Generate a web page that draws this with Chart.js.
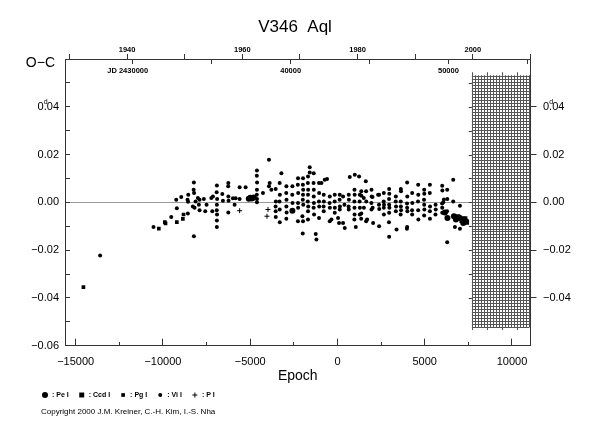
<!DOCTYPE html>
<html>
<head>
<meta charset="utf-8">
<script src="https://cdn.jsdelivr.net/npm/chart.js@4.4.1/dist/chart.umd.min.js"></script>
<style>
  html, body { margin: 0; padding: 0; background: #fff; }
  #wrap { width: 590px; height: 425px; }
</style>
</head>
<body>
<div id="wrap"><canvas id="ocChart"></canvas></div>
<script>
const starName = 'V346  Aql';
const copyright = 'Copyright 2000 J.M. Kreiner, C.-H. Kim, I.-S. Nha';

// ephemeris for the top axes (JD - 2400000 at epoch 0, period in days)
const t0 = 42965;
const period = 1.1064;

const epochRange = [-15610, 11060];
const ocRange = [-0.06, 0.06];

const epochTicks = [-15000, -10000, -5000, 0, 5000, 10000];
const epochMinorTicks = [-12500, -7500, -2500, 2500, 7500];
const ocTicks = [-0.06, -0.05, -0.04, -0.03, -0.02, -0.01, 0, 0.01, 0.02, 0.03, 0.04, 0.05, 0.06];
const ocLabels = [-0.06, -0.04, -0.02, 0, 0.02, 0.04];
const ocRightLabels = [-0.04, -0.02, 0, 0.02, 0.04];
const yearTicks = [1930, 1940, 1950, 1960, 1970, 1980, 1990, 2000, 2010];
const yearLabels = [1940, 1960, 1980, 2000];
const jdTicks = [30000, 35000, 40000, 45000, 50000, 55000];
const jdLabels = [30000, 40000, 50000];

// shaded block at the right end of the plot (epoch, O-C)
const hatchEpoch = [7700, 11060];
const hatchOC = [-0.0522, 0.0532];

// photoelectric minima
const peEpoch = [-5080, -4990, -4900, -4800, -2582, 6157, 6300, 6672, 6787, 7017, 7246, 7360, 7206];
const peOC = [0.0015, 0.0019, 0.0016, 0.0020, -0.0035, -0.0042, -0.0065, -0.0058, -0.0072, -0.0065, -0.0072, -0.0079, -0.0086];

// CCD minima
const ccdEpoch = [7130, 7300, 7400, 6900];
const ccdOC = [-0.0076, -0.0069, -0.0083, -0.0060];

// photographic minima
const pgEpoch = [-14555, -10235, -9891, -9850, -9202, -8818, -8858];
const pgOC = [-0.0355, -0.0110, -0.0083, -0.0088, -0.0083, -0.0051, -0.0069];

// visual minima
const viEpoch = [
  -13597, -10539, -9524, -9237, -9202, -8950, -8571, -8548, -8590, -8560,
  -8227, -8240, -8215, -8227, -8285, -8187, -8130, -7998, -7900, -7940,
  -7900, -7654, -7573, -7498, -7229, -7172, -7137, -6908, -6920, -6895,
  -6908, -6915, -6900, -6908, -6910, -6598, -6563, -6254, -6260, -6250,
  -6240, -6254, -5990, -5892, -5834, -5605, -5605, -5261, -4613, -4620,
  -4605, -4613, -4620, -4610, -4613, -3924, -4268, -3924, -3884, -3787,
  -3540, -3530, -3545, -3540, -3535, -3310, -3300, -3320, -3310, -3305,
  -3213, -2926, -2935, -2920, -2926, -2915, -2930, -2582, -2590, -2575,
  -2260, -2270, -2250, -2260, -2255, -2265, -2008, -1973, -1980, -1965,
  -1973, -1985, -1960, -1973, -1990, -1687, -1695, -1680, -1687, -1700,
  -1675, -1687, -1690, -1589, -1589, -1360, -1370, -1355, -1360, -1350,
  -1365, -1340, -1245, -1205, -1056, -1050, -1060, -1045, -1056, -918,
  -729, -597, -786, -780, -795, -786, -442, -450, -435, -442,
  -344, -155, -160, -150, -155, 34, 92, 132, 125, 140,
  132, 321, 400, 321, 419, 706, 993, 1239, 1624, 648,
  655, 640, 648, 975, 985, 970, 975, 980, 968, 1050,
  1279, 1270, 1285, 1279, 1509, 1515, 1698, 1951, 1960, 1945,
  1951, 2043, 2329, 1366, 1375, 1366, 1360, 1641, 1650, 1641,
  2008, 2015, 2387, 2380, 2395, 2387, 2656, 2650, 2665, 2656,
  2660, 2961, 2970, 2955, 2961, 2975, 2961, 2950, 2961, 3345,
  3340, 3355, 3345, 3385, 3632, 3640, 3625, 3632, 3645, 3620,
  3993, 4000, 3985, 3993, 4005, 3993, 3980, 4280, 4290, 4275,
  4280, 4624, 4630, 4615, 4624, 4635, 4969, 4975, 4960, 4969,
  4980, 4965, 5296, 5290, 5305, 5296, 5300, 5622, 5630, 5615,
  6001, 6010, 5995, 6001, 6005, 6288, 6295, 6280, 6288, 6632,
  6632, 6730, 7017, 7017, 6060, 6100
];
const viOC = [
  -0.0222, -0.0103, -0.0061, 0.0011, -0.0025, 0.0022, -0.0047, 0.0032, 0.0011, 0.0003,
  0.0083, 0.0053, 0.0039, -0.0142, -0.0017, -0.0023, 0.0004, 0.0018, 0.0011, -0.0010,
  -0.0033, 0.0014, -0.0037, -0.0010, 0.0018, -0.0037, 0.0025, 0.0071, 0.0042, 0.0014,
  -0.0010, -0.0033, -0.0051, -0.0076, -0.0103, 0.0035, 0.0007, 0.0081, 0.0067, 0.0025,
  0.0007, -0.0042, 0.0017, -0.0010, 0.0017, 0.0063, 0.0014, 0.0063, 0.0133, 0.0111,
  0.0083, 0.0053, 0.0032, 0.0014, 0.0000, 0.0178, 0.0039, 0.0067, 0.0081, 0.0053,
  0.0056, 0.0004, -0.0017, -0.0037, -0.0061, 0.0081, 0.0032, 0.0004, -0.0030, -0.0083,
  0.0122, 0.0067, 0.0039, 0.0011, -0.0017, -0.0042, -0.0069, 0.0067, 0.0032, -0.0003,
  0.0101, 0.0074, 0.0039, -0.0003, -0.0023, -0.0079, -0.0058, 0.0101, 0.0074, 0.0053,
  0.0032, 0.0011, -0.0010, -0.0079, -0.0130, 0.0108, 0.0081, 0.0053, 0.0032, 0.0004,
  -0.0017, -0.0037, -0.0072, 0.0147, 0.0125, 0.0122, 0.0081, 0.0053, 0.0025, -0.0003,
  -0.0023, -0.0051, -0.0132, -0.0155, 0.0081, 0.0039, 0.0004, -0.0017, -0.0065, 0.0081,
  0.0095, 0.0098, 0.0032, 0.0004, -0.0017, -0.0037, 0.0025, -0.0003, -0.0023, -0.0079,
  -0.0072, 0.0032, 0.0004, -0.0023, -0.0044, -0.0065, -0.0086, 0.0032, 0.0011, -0.0017,
  -0.0030, 0.0025, -0.0010, -0.0086, -0.0107, 0.0106, 0.0115, 0.0108, 0.0088, 0.0032,
  0.0011, -0.0017, -0.0030, 0.0053, 0.0032, 0.0004, -0.0023, -0.0051, -0.0072, -0.0103,
  0.0032, 0.0004, -0.0023, -0.0051, 0.0018, -0.0023, -0.0072, 0.0053, 0.0025, -0.0003,
  -0.0030, -0.0086, 0.0032, 0.0046, 0.0028, -0.0047, -0.0069, 0.0046, 0.0004, -0.0079,
  0.0022, -0.0023, 0.0032, -0.0010, -0.0028, -0.0100, 0.0039, 0.0004, -0.0010, -0.0023,
  -0.0051, 0.0056, 0.0036, 0.0014, -0.0010, -0.0023, -0.0044, -0.0083, -0.0144, 0.0025,
  0.0004, -0.0017, -0.0037, -0.0114, 0.0056, 0.0046, 0.0004, -0.0017, -0.0033, -0.0051,
  0.0083, 0.0025, -0.0005, -0.0023, -0.0037, -0.0103, -0.0111, 0.0039, -0.0003, -0.0033,
  -0.0051, 0.0074, 0.0032, 0.0004, -0.0033, -0.0072, 0.0053, 0.0036, 0.0011, -0.0010,
  -0.0030, -0.0055, 0.0074, 0.0039, -0.0017, -0.0037, -0.0069, -0.0010, -0.0030, -0.0051,
  0.0070, 0.0050, -0.0005, -0.0023, -0.0044, 0.0053, 0.0014, -0.0037, -0.0167, 0.0095,
  0.0004, -0.0103, -0.0111, -0.0014, 0.0000, 0.0012
];

// minima with unknown method
const pEpoch = [-5605, -3981, -4039];
const pOC = [-0.0035, -0.0030, -0.0058];

const family = "'Liberation Sans', Arial, Helvetica, sans-serif";
const axisColor = '#333';
const zeroColor = '#999';
const hatchColor = '#555';

Chart.defaults.font.family = family;
Chart.defaults.color = '#000';

function pairs(xs, ys) {
  return xs.map((x, i) => ({ x: x, y: ys[i] }));
}

function sameValue(a, b) {
  return Math.abs(a - b) < 1e-9;
}

function fmtNumber(v, digits) {
  if (sameValue(v, 0)) v = 0;
  const s = v.toFixed(digits);
  return s.replace('-', '\u2212');
}

function jdToYear(jd) {
  return 2000 + (jd - 51544.5) / 365.25;
}

const jdMin = t0 + period * epochRange[0];
const jdMax = t0 + period * epochRange[1];

function useTicks(list) {
  return function (scale) {
    scale.ticks = list.map(v => ({ value: v }));
  };
}

// hatched block, day marks on 0.04, O-C label, legend and copyright
const decorations = {
  id: 'decorations',
  afterDatasetsDraw(chart) {
    const ctx = chart.ctx;
    const xs = chart.scales.x;
    const ys = chart.scales.y;
    const left = xs.getPixelForValue(hatchEpoch[0]);
    const right = xs.getPixelForValue(hatchEpoch[1]);
    const top = ys.getPixelForValue(hatchOC[1]);
    const bottom = ys.getPixelForValue(hatchOC[0]);
    const stepX = 172;
    const stepY = 0.00125;

    ctx.save();
    ctx.fillStyle = '#fff';
    ctx.fillRect(left, top, right - left - 1, bottom - top);
    ctx.strokeStyle = hatchColor;
    ctx.lineWidth = 1;
    ctx.beginPath();
    let n = 0;
    for (let e = hatchEpoch[0]; e < hatchEpoch[1] - 40; e += stepX) {
      const px = Math.round(xs.getPixelForValue(e)) + 0.5;
      const ext = (n % 5 === 0) ? 3 : 0;
      ctx.moveTo(px, top - ext);
      ctx.lineTo(px, bottom + ext);
      n++;
    }
    for (let v = hatchOC[0]; v <= hatchOC[1] + 1e-9; v += stepY) {
      const py = Math.round(ys.getPixelForValue(v)) + 0.5;
      ctx.moveTo(left, py);
      ctx.lineTo(right - 1, py);
    }
    ctx.stroke();

    ctx.strokeStyle = axisColor;
    ctx.beginPath();
    for (let v = -0.04; v <= 0.05 + 1e-9; v += 0.01) {
      const py = Math.round(ys.getPixelForValue(v)) + 0.5;
      ctx.moveTo(left - 3, py);
      ctx.lineTo(left, py);
    }
    ctx.stroke();
    ctx.restore();
  },
  afterDraw(chart) {
    const ctx = chart.ctx;
    const ys = chart.scales.y;
    const ys2 = chart.scales.y2;
    ctx.save();
    ctx.fillStyle = '#000';

    // O-C heading at the top of the left axis
    ctx.font = '14px ' + family;
    ctx.textAlign = 'right';
    ctx.textBaseline = 'middle';
    ctx.fillText('O\u2212C', ys.right - 10, chart.chartArea.top + 4);

    // small "d" over the decimal point of 0.04
    ctx.font = '11px ' + family;
    const wDot = ctx.measureText('.').width;
    const w04 = ctx.measureText('04').width;
    const w0 = ctx.measureText('0').width;
    const leftEdge = ys.right - (ys.options.grid.tickLength + ys.options.ticks.padding);
    const rightEdge = ys2.left + ys2.options.grid.tickLength + ys2.options.ticks.padding;
    const py = ys.getPixelForValue(0.04);
    ctx.font = '7px ' + family;
    ctx.textAlign = 'center';
    ctx.fillText('d', leftEdge - w04 - wDot / 2 + 0.5, py - 5);
    ctx.fillText('d', rightEdge + w0 + wDot / 2 + 0.5, py - 5);

    // legend of observation types
    ctx.font = 'bold 7px ' + family;
    ctx.textAlign = 'left';
    let x = 45;
    const ly = 395;
    chart.data.datasets.forEach(function (ds) {
      const r = ds.pointRadius;
      ctx.fillStyle = '#000';
      ctx.strokeStyle = '#000';
      if (ds.pointStyle === 'rect') {
        const s = r * Math.SQRT1_2;
        ctx.fillRect(x - s, ly - s, 2 * s, 2 * s);
      } else if (ds.pointStyle === 'cross') {
        ctx.lineWidth = 1;
        ctx.beginPath();
        ctx.moveTo(x - r, ly);
        ctx.lineTo(x + r, ly);
        ctx.moveTo(x, ly - r);
        ctx.lineTo(x, ly + r);
        ctx.stroke();
      } else {
        ctx.beginPath();
        ctx.arc(x, ly, r, 0, Math.PI * 2);
        ctx.fill();
      }
      const text = ': ' + ds.label;
      ctx.fillText(text, x + 7, ly);
      x += 7 + ctx.measureText(text).width + 13;
    });

    ctx.font = '8px ' + family;
    ctx.fillText(copyright, 41, 412);
    ctx.restore();
  }
};

const ctx = document.getElementById('ocChart').getContext('2d');

const ocChart = new Chart(ctx, {
  type: 'scatter',
  data: {
    datasets: [
      {
        label: 'Pe I',
        data: pairs(peEpoch, peOC),
        pointStyle: 'circle',
        pointRadius: 3,
        pointBorderWidth: 0,
        backgroundColor: '#000',
        borderColor: '#000'
      },
      {
        label: 'Ccd I',
        data: pairs(ccdEpoch, ccdOC),
        pointStyle: 'rect',
        pointRadius: 3.5,
        pointBorderWidth: 0,
        backgroundColor: '#000',
        borderColor: '#000'
      },
      {
        label: 'Pg I',
        data: pairs(pgEpoch, pgOC),
        pointStyle: 'rect',
        pointRadius: 2.6,
        pointBorderWidth: 0,
        backgroundColor: '#000',
        borderColor: '#000'
      },
      {
        label: 'Vi I',
        data: pairs(viEpoch, viOC),
        pointStyle: 'circle',
        pointRadius: 2,
        pointBorderWidth: 0,
        backgroundColor: '#000',
        borderColor: '#000'
      },
      {
        label: 'P I',
        data: pairs(pEpoch, pOC),
        pointStyle: 'cross',
        pointRadius: 2.5,
        pointBorderWidth: 1,
        backgroundColor: '#000',
        borderColor: '#000'
      }
    ]
  },
  options: {
    responsive: true,
    maintainAspectRatio: false,
    animation: false,
    layout: {
      padding: { top: 0, right: 0, bottom: 40, left: 0 }
    },
    plugins: {
      legend: { display: false },
      tooltip: { enabled: false },
      title: {
        display: true,
        text: starName,
        color: '#000',
        font: { size: 17, weight: 'normal', family: family },
        padding: { top: 16.8, bottom: 0 }
      }
    },
    scales: {
      x: {
        type: 'linear',
        position: 'bottom',
        min: epochRange[0],
        max: epochRange[1],
        afterBuildTicks: useTicks(epochTicks),
        afterFit: function (scale) { scale.height = 39.3; },
        grid: { drawOnChartArea: false, tickLength: -7, tickColor: axisColor },
        border: { color: axisColor, width: 1 },
        ticks: {
          autoSkip: false,
          maxRotation: 0,
          padding: 16.7,
          color: '#000',
          font: { size: 11 },
          callback: v => fmtNumber(v, 0)
        },
        title: {
          display: true,
          text: 'Epoch',
          color: '#000',
          font: { size: 14 },
          padding: { top: 0, bottom: 0 }
        }
      },
      xminor: {
        type: 'linear',
        position: { y: ocRange[0] },
        min: epochRange[0],
        max: epochRange[1],
        afterBuildTicks: useTicks(epochMinorTicks),
        grid: { drawOnChartArea: false, tickLength: -4, tickColor: axisColor },
        border: { display: false },
        ticks: { display: false }
      },
      x2: {
        type: 'linear',
        position: 'top',
        min: jdToYear(jdMin),
        max: jdToYear(jdMax),
        afterBuildTicks: useTicks(yearTicks),
        afterFit: function (scale) { scale.height = 21.8; },
        grid: { drawOnChartArea: false, tickLength: 5, tickColor: axisColor },
        border: { color: axisColor, width: 1 },
        ticks: {
          autoSkip: false,
          maxRotation: 0,
          padding: 0,
          color: '#000',
          font: { size: 7.5, weight: 'bold' },
          callback: v => yearLabels.includes(v) ? String(v) : ''
        }
      },
      xjd: {
        type: 'linear',
        position: { y: ocRange[1] },
        min: jdMin,
        max: jdMax,
        afterBuildTicks: useTicks(jdTicks),
        grid: { drawOnChartArea: false, tickLength: 5, tickColor: axisColor },
        border: { display: false },
        ticks: {
          autoSkip: false,
          maxRotation: 0,
          padding: 2.2,
          color: '#000',
          font: { size: 7.5, weight: 'bold' },
          callback: function (v) {
            if (!jdLabels.includes(v)) return '';
            if (v === jdLabels[0]) return 'JD ' + (2400000 + v) + '\u2007\u2007 ';
            return String(v);
          }
        }
      },
      y: {
        type: 'linear',
        position: 'left',
        min: ocRange[0],
        max: ocRange[1],
        afterBuildTicks: useTicks(ocTicks),
        afterFit: function (scale) { scale.width = 65; },
        grid: {
          drawOnChartArea: true,
          tickLength: -5,
          tickColor: axisColor,
          color: c => (c.tick && sameValue(c.tick.value, 0)) ? zeroColor : 'rgba(0,0,0,0)'
        },
        border: { color: axisColor, width: 1 },
        ticks: {
          autoSkip: false,
          padding: 11,
          color: '#000',
          font: { size: 11 },
          callback: v => ocLabels.some(l => sameValue(l, v)) ? fmtNumber(v, 2) : ''
        }
      },
      y2: {
        type: 'linear',
        position: 'right',
        min: ocRange[0],
        max: ocRange[1],
        afterBuildTicks: useTicks(ocRightLabels),
        afterFit: function (scale) { scale.width = 59.5; },
        grid: { drawOnChartArea: false, tickLength: 6, tickColor: axisColor },
        border: { color: axisColor, width: 1 },
        ticks: {
          autoSkip: false,
          padding: 6.5,
          color: '#000',
          font: { size: 11 },
          callback: v => fmtNumber(v, 2)
        }
      }
    }
  },
  plugins: [decorations]
});
</script>
</body>
</html>
